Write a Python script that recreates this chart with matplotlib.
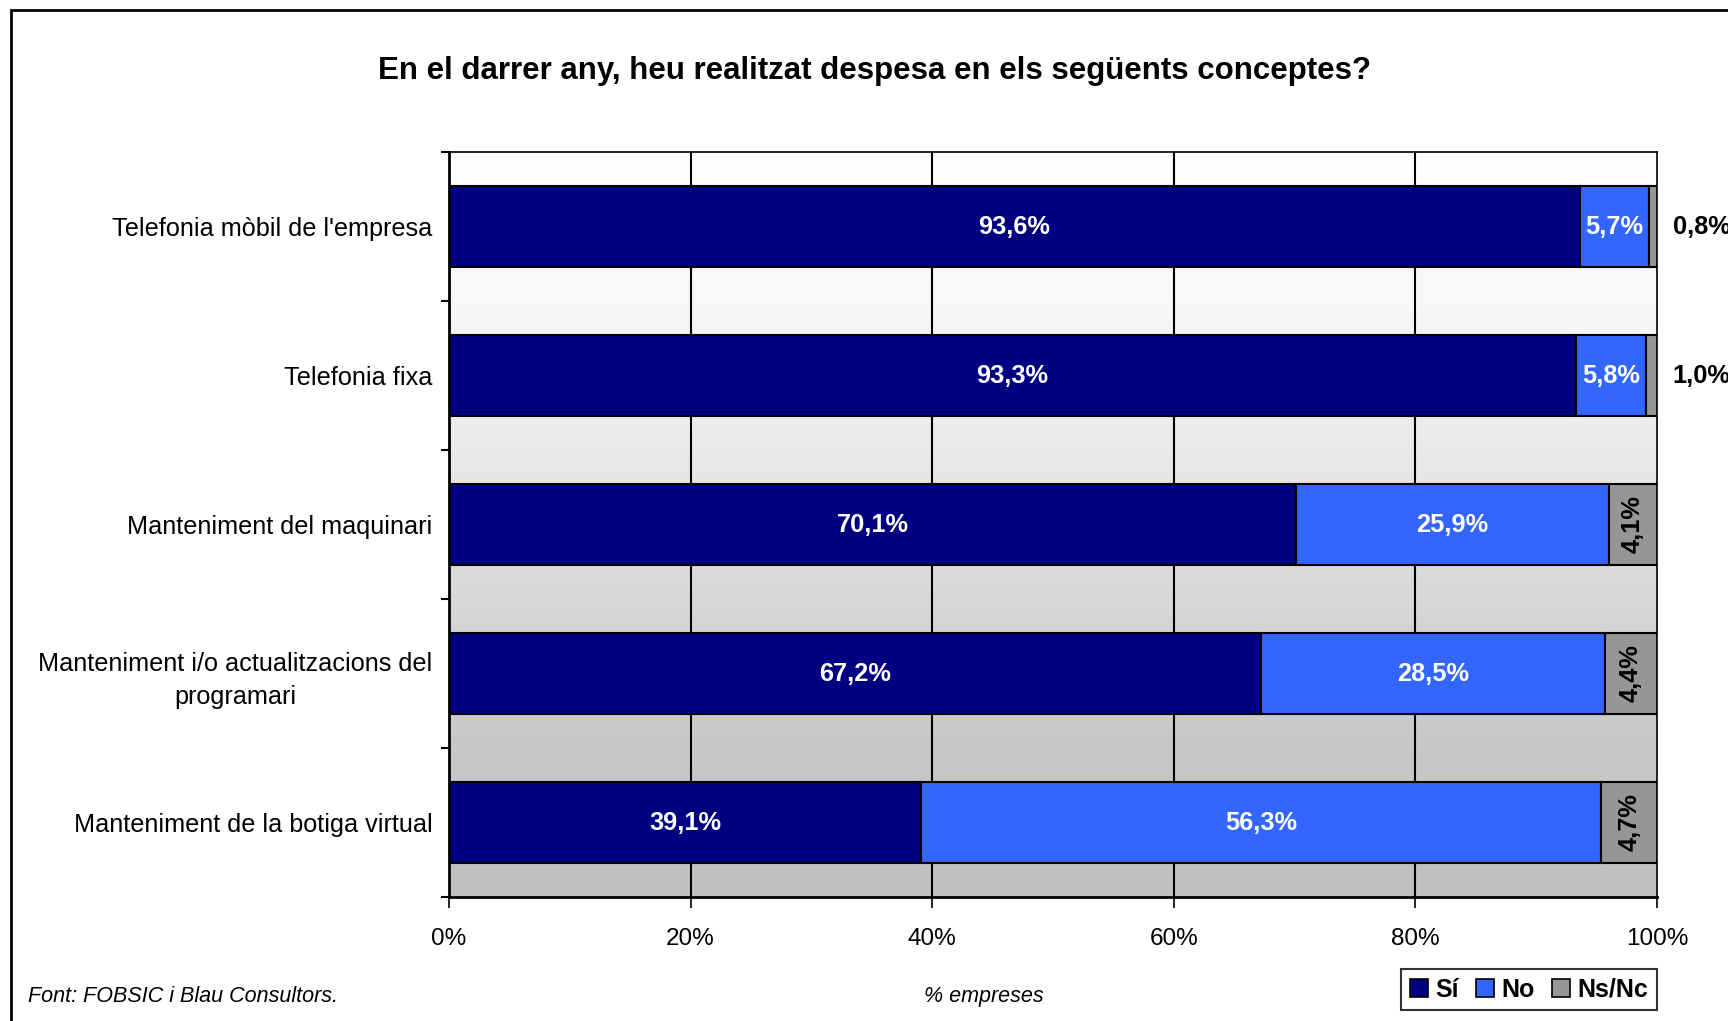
import numpy as np
import matplotlib
matplotlib.use("Agg")
import matplotlib.pyplot as plt
from matplotlib.colors import LinearSegmentedColormap
from matplotlib.patches import Rectangle, Patch

plt.rcParams['font.family'] = ['Liberation Sans', 'DejaVu Sans']

categories = ["Telefonia mòbil de l'empresa", "Telefonia fixa", "Manteniment del maquinari",
              "Manteniment i/o actualitzacions del\nprogramari", "Manteniment de la botiga virtual"]
si = [93.6, 93.3, 70.1, 67.2, 39.1]
no = [5.7, 5.8, 25.9, 28.5, 56.3]
nsnc = [0.8, 1.0, 4.1, 4.4, 4.7]
series_names = ["Sí", "No", "Ns/Nc"]
colors = ["#000080", "#3366FF", "#969696"]
xticks = [0, 20, 40, 60, 80, 100]
xticklabels = ["0%", "20%", "40%", "60%", "80%", "100%"]

W, H = 1728, 1021
fig = plt.figure(figsize=(W / 100, H / 100), dpi=100)
fig.patch.set_facecolor('white')

# outer frame
fig.patches.append(Rectangle((11 / W, -0.2), 1.5, 1 - 10 / H + 0.2, transform=fig.transFigure,
                             fill=False, edgecolor='black', lw=2))

ax = fig.add_axes([449 / W, 1 - 897 / H, (1657 - 449) / W, (897 - 152) / H])

stops = [(0.0, '#FFFFFF'), (0.2, '#F8F8F8'), (0.4, '#EAEAEA'), (0.6, '#D8D8D8'),
         (0.8, '#C8C8C8'), (1.0, '#C0C0C0')]
cmap = LinearSegmentedColormap.from_list('g', stops)
grad = np.linspace(0, 1, 256).reshape(-1, 1)
ax.imshow(grad, cmap=cmap, extent=[0, 1, 0, 1], transform=ax.transAxes, aspect='auto',
          zorder=0, origin='upper')

for gx in xticks[1:-1]:
    ax.axvline(gx, color='black', lw=1.5, zorder=1)

y = np.arange(len(categories))
h = 0.55
left = np.zeros(len(categories))
data = [si, no, nsnc]
for vals, col, name in zip(data, colors, series_names):
    ax.barh(y, vals, left=left, height=h, color=col, edgecolor='black', lw=1.5, zorder=2, label=name)
    left = left + np.array(vals)

def fmt(v):
    return f"{v:.1f}%".replace('.', ',')

FS = 18.3
for i in range(len(categories)):
    ax.text(si[i] / 2, y[i], fmt(si[i]), color='white', fontweight='bold', fontsize=FS,
            ha='center', va='center', zorder=3)
    ax.text(si[i] + no[i] / 2, y[i], fmt(no[i]), color='white', fontweight='bold', fontsize=FS,
            ha='center', va='center', zorder=3)
    if nsnc[i] >= 3:
        ax.text(min(si[i] + no[i] + nsnc[i] / 2, 100 - nsnc[i] / 2 + 0.05), y[i], fmt(nsnc[i]),
                color='black', fontweight='bold', fontsize=FS, rotation=90,
                ha='center', va='center', zorder=3)
    else:
        ax.text(101.3, y[i], fmt(nsnc[i]), color='black', fontweight='bold', fontsize=FS,
                ha='left', va='center', zorder=3, clip_on=False)

ax.set_xlim(0, 100)
ax.set_ylim(len(categories) - 0.5, -0.5)

ax.set_yticks(y)
ax.set_yticklabels(categories, fontsize=18.2, multialignment='center', linespacing=1.45)
ax.tick_params(axis='y', which='major', length=0, pad=12)
ax.set_yticks(np.arange(-0.5, len(categories) + 0.5, 1), minor=True)
ax.tick_params(axis='y', which='minor', length=6, width=1.5, direction='out')

ax.set_xticks(xticks)
ax.set_xticklabels(xticklabels, fontsize=17.5)
ax.tick_params(axis='x', length=8, width=1.2, direction='out', pad=14)

for s in ['top', 'right']:
    ax.spines[s].set_linewidth(1.2)
for s in ['left', 'bottom']:
    ax.spines[s].set_linewidth(2)

fig.text(874 / W, 1 - 71 / H, "En el darrer any, heu realitzat despesa en els següents conceptes?",
         ha='center', va='center', fontsize=22.5, fontweight='bold')
fig.text(28 / W, 1 - 996 / H, "Font: FOBSIC i Blau Consultors.", ha='left', va='center',
         fontsize=15.5, style='italic')
fig.text(984 / W, 1 - 996 / H, "% empreses", ha='center', va='center', fontsize=15.5, style='italic')

handles = [Patch(facecolor=c, edgecolor='black', lw=1.2) for c in colors]
leg = fig.legend(handles, series_names, loc='center',
                 bbox_to_anchor=((1403 + 1655) / 2 / W, 1 - 989.5 / H), ncol=3,
                 prop={'weight': 'bold', 'size': 18}, frameon=True, fancybox=False,
                 edgecolor='black', handlelength=0.7, handleheight=0.7, handletextpad=0.3,
                 columnspacing=0.7, borderpad=0.35, borderaxespad=0)
leg.get_frame().set_linewidth(1.5)

fig.savefig("out.png", dpi=100)
